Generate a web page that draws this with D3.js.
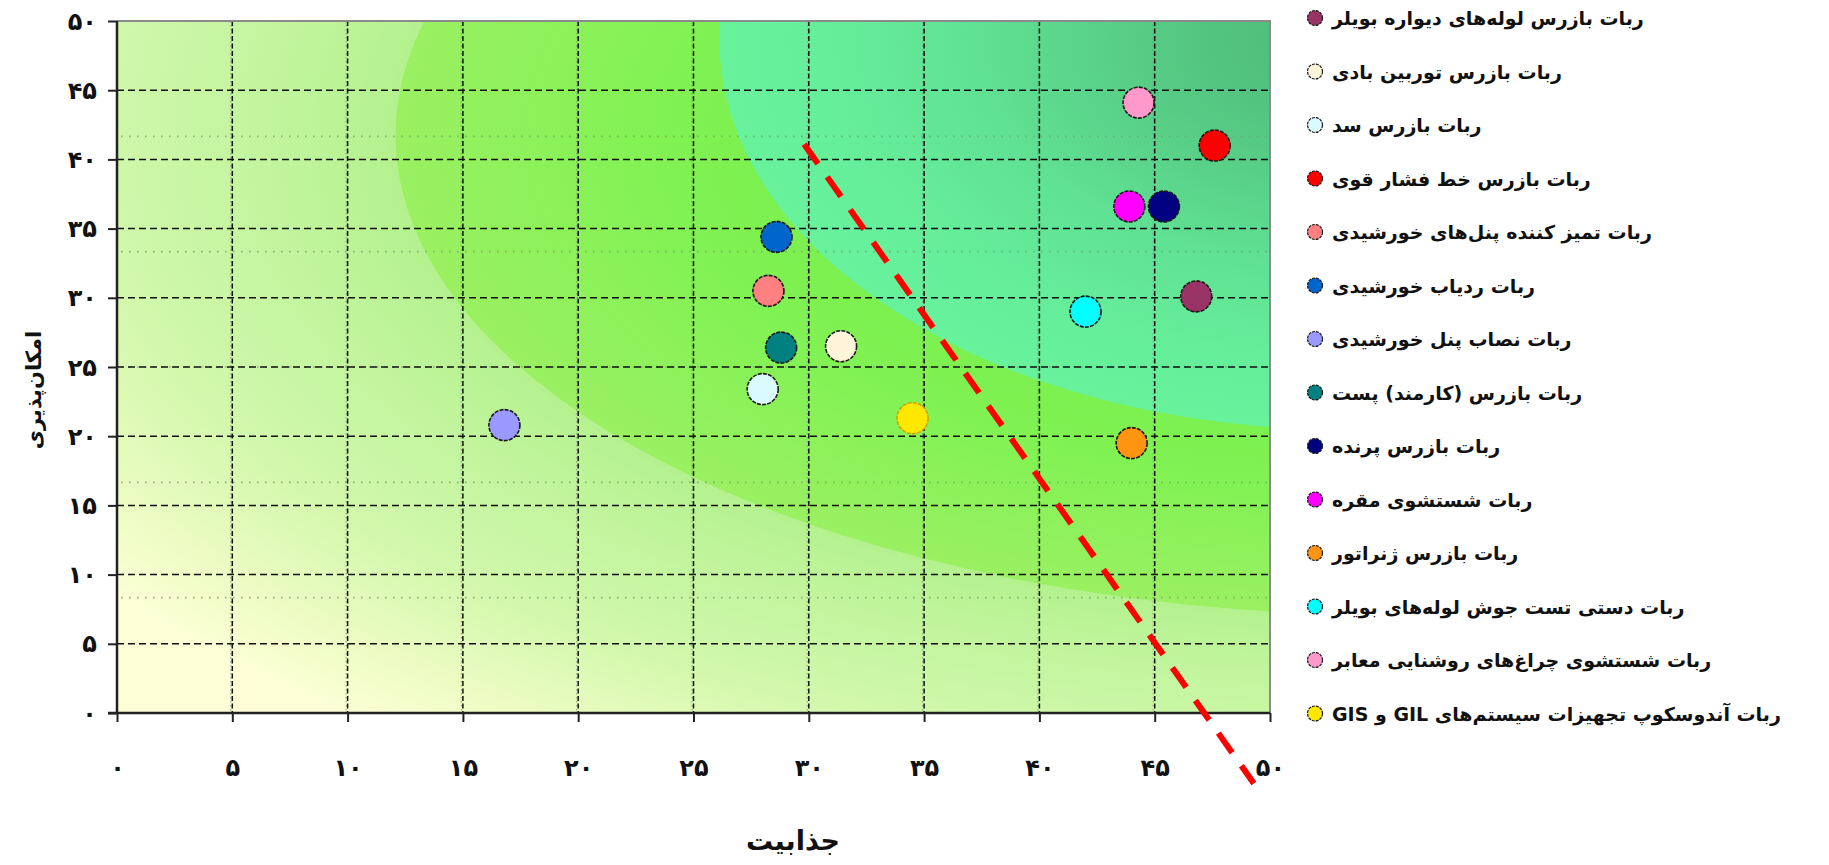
<!DOCTYPE html>
<html><head><meta charset="utf-8">
<script src="https://cdn.jsdelivr.net/npm/d3@7"></script>
<style>body{margin:0;background:#fff;} svg{display:block;}</style>
</head><body>
<svg id="chart" width="1829" height="865"></svg>
<script>
// ---- data ----
const robots = [
  "ربات بازرس لوله‌های دیواره بویلر",
  "ربات بازرس توربین بادی",
  "ربات بازرس سد",
  "ربات بازرس خط فشار قوی",
  "ربات تمیز کننده پنل‌های خورشیدی",
  "ربات ردیاب خورشیدی",
  "ربات نصاب پنل خورشیدی",
  "ربات بازرس (کارمند) پست",
  "ربات بازرس پرنده",
  "ربات شستشوی مقره",
  "ربات بازرس ژنراتور",
  "ربات دستی تست جوش لوله‌های بویلر",
  "ربات شستشوی چراغ‌های روشنایی معابر",
  "ربات آندوسکوپ تجهیزات سیستم‌های GIL و GIS"
];
const attractiveness = [46.8, 31.4, 28.0, 47.6, 28.25, 28.6, 16.8, 28.8, 45.4, 43.9, 44.0, 42.0, 44.3, 34.5];
const feasibility    = [30.1, 26.5, 23.4, 41.0, 30.5, 34.4, 20.8, 26.4, 36.6, 36.6, 19.5, 29.0, 44.1, 21.3];
const colors = ["#993366","#FFF5DA","#D9FAFF","#FF0000","#FF8080","#0066CC","#9999FF","#008080","#000080","#FF00FF","#FF9410","#00FFFF","#FF99CC","#FFE800"];
const xTicks = [0,5,10,15,20,25,30,35,40,45,50];
const yTicks = [0,5,10,15,20,25,30,35,40,45,50];
const yMinor = [50/6, 100/6, 150/6, 200/6, 250/6];
const cutLineX = [29.8, 49.3];
const cutLineY = [41.1, -5.1];
const xTitle = "جذابیت";
const yTitle = "امکان‌پذیری";

// ---- layout ----
const svg = d3.select("#chart");
const x = d3.scaleLinear().domain([0,50]).range([117,1270]);
const y = d3.scaleLinear().domain([0,50]).range([713,21]);
const fa = n => String(n).replace(/\d/g, c => "۰۱۲۳۴۵۶۷۸۹"[+c]);
const FONT = "'DejaVu Sans', sans-serif";

const defs = svg.append("defs");
defs.append("clipPath").attr("id","plotClip").append("rect")
  .attr("x",x(0)).attr("y",y(50)).attr("width",x(50)-x(0)).attr("height",y(0)-y(50));

// background gradients
const cxO = 1395, cyO = 135;
const gBase = defs.append("radialGradient").attr("id","gBase")
  .attr("gradientUnits","userSpaceOnUse").attr("cx",cxO).attr("cy",cyO).attr("r",1600)
  .attr("fx",cxO).attr("fy",cyO)
  .attr("gradientTransform",`translate(${cxO},${cyO}) scale(1,0.48) translate(${-cxO},${-cyO})`);
[[0.55,"#A6EE7E"],[0.68,"#BEF49A"],[0.82,"#D2F8AC"],[0.95,"#F2FDC8"],[1.0,"#FCFFD6"]]
  .forEach(([o,c]) => gBase.append("stop").attr("offset",o).attr("stop-color",c));
const gOuter = defs.append("radialGradient").attr("id","gOuter");
[[0.6,"#7AF04E"],[0.75,"#82F254"],[1.0,"#9AF062"]]
  .forEach(([o,c]) => gOuter.append("stop").attr("offset",o).attr("stop-color",c));
const gInner = defs.append("radialGradient").attr("id","gInner");
[[0,"#4EB878"],[0.3,"#56CA84"],[0.6,"#60E294"],[0.85,"#66EF9A"],[1,"#68F29C"]]
  .forEach(([o,c]) => gInner.append("stop").attr("offset",o).attr("stop-color",c));

const zones = [
  {cx:55.46, cy:41.74, rx:43.38, ry:34.68, fill:"url(#gOuter)"},
  {cx:53.03, cy:48.6,  rx:26.9,  ry:28.1,  fill:"url(#gInner)"}
];

const bg = svg.append("g").attr("clip-path","url(#plotClip)");
bg.append("rect").attr("x",x(0)).attr("y",y(50)).attr("width",x(50)-x(0)).attr("height",y(0)-y(50))
  .attr("fill","url(#gBase)");
bg.selectAll("ellipse").data(zones).join("ellipse")
  .attr("cx",d=>x(d.cx)).attr("cy",d=>y(d.cy))
  .attr("rx",d=>x(d.rx)-x(0)).attr("ry",d=>y(0)-y(d.ry))
  .attr("fill",d=>d.fill);

// grid
const grid = svg.append("g");
grid.selectAll(".ym").data(yMinor).join("line")
  .attr("x1",x(0)+4).attr("x2",x(50)).attr("y1",d=>y(d)).attr("y2",d=>y(d))
  .attr("stroke","#7f9f76").attr("stroke-width",1.6).attr("stroke-dasharray","1.6,6.4").attr("opacity",0.8);
grid.selectAll(".xg2").data(xTicks.slice(1,-1)).join("line")
  .attr("x1",d=>x(d)-1.5).attr("x2",d=>x(d)-1.5).attr("y1",y(50)).attr("y2",y(0))
  .attr("stroke","#7f9f76").attr("stroke-width",1.2).attr("stroke-dasharray","1.5,2.5").attr("opacity",0.8);
grid.selectAll(".xg").data(xTicks.slice(1,-1)).join("line")
  .attr("x1",d=>x(d)).attr("x2",d=>x(d)).attr("y1",y(50)).attr("y2",y(0))
  .attr("stroke","#111").attr("stroke-width",1.5).attr("stroke-dasharray","5,2.5");
grid.selectAll(".yg").data(yTicks.slice(1,-1)).join("line")
  .attr("x1",x(0)).attr("x2",x(50)).attr("y1",d=>y(d)).attr("y2",d=>y(d))
  .attr("stroke","#111").attr("stroke-width",1.5).attr("stroke-dasharray","7,4");

// plot border (top/right)
svg.append("path").attr("d",`M${x(0)},${y(50)}H${x(50)}V${y(0)}`)
  .attr("fill","none").attr("stroke","#8a8a8a").attr("stroke-width",2);

// axes
const xAxis = d3.axisBottom(x).tickValues(xTicks).tickSize(9).tickPadding(0).tickFormat(fa);
const gx = svg.append("g").attr("transform",`translate(0,${y(0)})`).call(xAxis);
gx.select(".domain").attr("stroke","#222").attr("stroke-width",2.5).attr("d",`M${x(0)-9},0H${x(50)}`);
gx.selectAll(".tick line").attr("stroke","#222").attr("stroke-width",2);
gx.selectAll(".tick text").attr("y",55).attr("dy",0).attr("dominant-baseline","central")
  .attr("font-family",FONT).attr("font-weight","bold").attr("font-size",24).attr("fill","#111");

const yAxis = d3.axisLeft(y).tickValues(yTicks).tickSize(9).tickFormat(fa);
const gy = svg.append("g").attr("transform",`translate(${x(0)},0)`).call(yAxis);
gy.select(".domain").attr("stroke","#222").attr("stroke-width",2.5).attr("d",`M0,${y(0)}V${y(50)}`);
gy.selectAll(".tick line").attr("stroke","#222").attr("stroke-width",2);
gy.selectAll(".tick text").attr("x",-20).attr("dy",0).attr("dominant-baseline","central")
  .attr("font-family",FONT).attr("font-weight","bold").attr("font-size",24).attr("fill","#111");

// titles
svg.append("text").attr("transform","translate(34,390) rotate(-90)")
  .attr("text-anchor","middle").attr("dominant-baseline","central")
  .attr("font-family",FONT).attr("font-weight","bold").attr("font-size",21).attr("fill","#111")
  .text("\u202B" + yTitle + "\u202C");
svg.append("text").attr("x",793).attr("y",850)
  .attr("text-anchor","middle")
  .attr("font-family",FONT).attr("font-weight","bold").attr("font-size",27).attr("fill","#111")
  .text("\u202B" + xTitle + "\u202C");

// points
const pts = robots.map((name,i)=>({name, x:attractiveness[i], y:feasibility[i], c:colors[i]}));
svg.append("g").selectAll("circle").data(pts).join("circle")
  .attr("cx",d=>x(d.x)).attr("cy",d=>y(d.y)).attr("r",15.5)
  .attr("fill",d=>d.c)
  .attr("stroke",d=>d.c==="#FFE800" ? "#C9A800" : "#1a1a1a")
  .attr("stroke-width",1.6).attr("stroke-dasharray","4,1.2");

// red cut line
svg.append("line")
  .attr("x1",x(cutLineX[0])).attr("y1",y(cutLineY[0]))
  .attr("x2",x(cutLineX[1])).attr("y2",y(cutLineY[1]))
  .attr("stroke","#FF0000").attr("stroke-width",6).attr("stroke-dasharray","24,16");

// legend
const leg = svg.append("g");
const rows = leg.selectAll("g").data(pts).join("g")
  .attr("transform",(d,i)=>`translate(1315,${18 + i*53.5})`);
rows.append("circle").attr("r",7.5).attr("fill",d=>d.c)
  .attr("stroke","#1a1a1a").attr("stroke-width",1.2).attr("stroke-dasharray","3,1");
rows.append("text").attr("x",17).attr("dominant-baseline","central")
  .attr("font-family",FONT).attr("font-weight","bold").attr("font-size",19).attr("fill","#111")
  .text(d=>"\u202B" + d.name + "\u202C");
</script>
</body></html>
